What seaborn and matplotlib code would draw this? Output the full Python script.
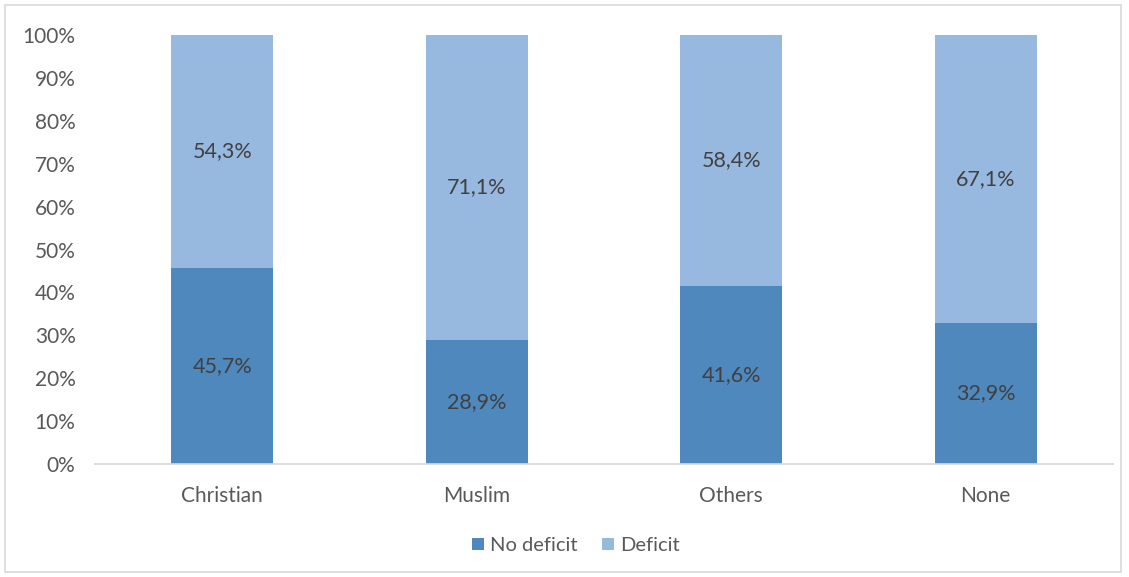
import matplotlib.pyplot as plt
import seaborn as sns
import pandas as pd
from matplotlib.patches import Rectangle

# data
religions = ["Christian", "Muslim", "Others", "None"]
no_deficit = [45.7, 28.9, 41.6, 32.9]
deficit = [54.3, 71.1, 58.4, 67.1]

dark = "#4F88BD"
light = "#98B9DF"

sns.set_style("white")
plt.rcParams["font.family"] = ["Lato", "DejaVu Sans"]

df = pd.DataFrame({"religion": religions, "no": no_deficit, "def": deficit})
df["total"] = df["no"] + df["def"]

fig = plt.figure(figsize=(11.29, 5.77), dpi=100)
ax = fig.add_axes([95 / 1129, 1 - 464 / 577, 1018 / 1129, 429 / 577])

sns.barplot(data=df, x="religion", y="total", color=light, width=0.4,
            saturation=1, linewidth=0, ax=ax, label="Deficit")
sns.barplot(data=df, x="religion", y="no", color=dark, width=0.4,
            saturation=1, linewidth=0, ax=ax, label="No deficit")

for i, row in df.iterrows():
    ax.text(i, row["no"] / 2, f"{row['no']:.1f}%".replace(".", ","),
            ha="center", va="center", fontsize=15.5, color="#404040")
    ax.text(i, row["no"] + row["def"] / 2, f"{row['def']:.1f}%".replace(".", ","),
            ha="center", va="center", fontsize=15.5, color="#404040")

ax.set_ylim(0, 100)
ax.set_xlim(-0.5, 3.5)
ax.set_yticks(range(0, 101, 10))
ax.set_yticklabels([f"{v}%" for v in range(0, 101, 10)])
ax.set_xlabel("")
ax.set_ylabel("")
ax.tick_params(axis="both", length=0, labelsize=15, colors="#595959")
ax.tick_params(axis="x", pad=16)
ax.tick_params(axis="y", pad=14)
for s in ["top", "right", "left"]:
    ax.spines[s].set_visible(False)
ax.spines["bottom"].set_color("#D9D9D9")
ax.spines["bottom"].set_linewidth(1.2)

handles, labels = ax.get_legend_handles_labels()
order = [labels.index("No deficit"), labels.index("Deficit")]
ax.legend([handles[k] for k in order], [labels[k] for k in order],
          loc="center", bbox_to_anchor=(0.472, -0.19), ncol=2, frameon=False,
          fontsize=14.5, labelcolor="#595959", handlelength=0.6, handleheight=0.6,
          handletextpad=0.3, columnspacing=1.2)

fig.patches.append(Rectangle((5 / 1129, 5 / 577), 1116 / 1129, 567 / 577,
                             transform=fig.transFigure, fill=False,
                             edgecolor="#D9D9D9", linewidth=1.2))

fig.savefig("out.png", dpi=100)
